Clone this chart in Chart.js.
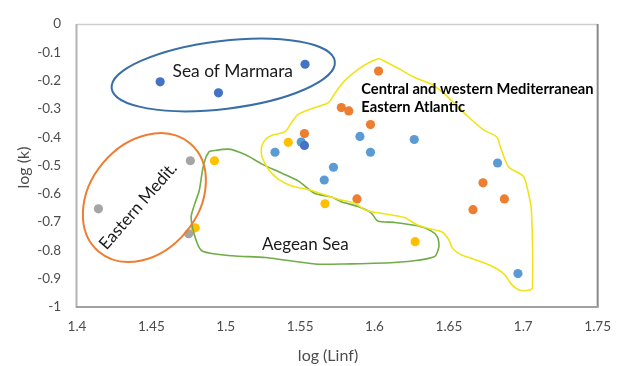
<!DOCTYPE html>
<html>
<head>
<meta charset="utf-8">
<script src="https://cdn.jsdelivr.net/npm/chart.js@4.4.1/dist/chart.umd.min.js"></script>
<style>
  html, body { margin: 0; padding: 0; background: #ffffff; }
  #wrap { width: 623px; height: 366px; }
</style>
</head>
<body>
<div id="wrap"><canvas id="chart" width="623" height="366"></canvas></div>
<script>
// Growth parameters: log(Linf) on x, log(k) on y, one series per group
const xTickValues = [1.4, 1.45, 1.5, 1.55, 1.6, 1.65, 1.7, 1.75];
const xTickLabels = ['1.4', '1.45', '1.5', '1.55', '1.6', '1.65', '1.7', '1.75'];
const yTickValues = [0, -0.1, -0.2, -0.3, -0.4, -0.5, -0.6, -0.7, -0.8, -0.9, -1];
const yTickLabels = ['0', '-0.1', '-0.2', '-0.3', '-0.4', '-0.5', '-0.6', '-0.7', '-0.8', '-0.9', '-1'];

const lightBlueX = [1.5331, 1.5507, 1.5902, 1.6267, 1.5973, 1.5724, 1.5662, 1.6827, 1.6964];
const lightBlueY = [-0.453, -0.417, -0.397, -0.408, -0.453, -0.506, -0.551, -0.491, -0.882];

const orangeX = [1.5529, 1.6027, 1.5777, 1.5827, 1.5973, 1.6729, 1.5882, 1.6873, 1.6662];
const orangeY = [-0.387, -0.166, -0.295, -0.307, -0.355, -0.561, -0.618, -0.618, -0.656];

const greyX = [1.4762, 1.4144, 1.4751];
const greyY = [-0.483, -0.653, -0.741];

const goldX = [1.5420, 1.4924, 1.5667, 1.6273, 1.4795];
const goldY = [-0.418, -0.483, -0.635, -0.769, -0.720];

const darkBlueX = [1.4559, 1.4951, 1.5533, 1.5529];
const darkBlueY = [-0.204, -0.243, -0.142, -0.429];

// Outline of the central/western Mediterranean and eastern Atlantic group
const westOutlineX = [1.6033, 1.6155, 1.6267, 1.6377, 1.6467, 1.6533, 1.6622, 1.6733, 1.6822, 1.6844,
  1.6900, 1.7000, 1.7033, 1.7055, 1.7062, 1.7044, 1.6977, 1.6922, 1.6877, 1.6822,
  1.6755, 1.6667, 1.6577, 1.6522, 1.6500, 1.6455, 1.6377, 1.6289, 1.6200, 1.6022,
  1.5933, 1.5867, 1.5755, 1.5577, 1.5444, 1.5355, 1.5289, 1.5244, 1.5240, 1.5267,
  1.5311, 1.5400, 1.5444, 1.5489, 1.5600, 1.5689, 1.5733, 1.5800, 1.5889, 1.5977, 1.6033];
const westOutlineY = [-0.122, -0.155, -0.188, -0.211, -0.245, -0.278, -0.324, -0.374, -0.399, -0.431,
  -0.504, -0.538, -0.594, -0.662, -0.932, -0.940, -0.941, -0.921, -0.887, -0.865,
  -0.848, -0.831, -0.814, -0.791, -0.763, -0.735, -0.724, -0.710, -0.684, -0.667,
  -0.656, -0.633, -0.619, -0.588, -0.572, -0.549, -0.515, -0.470, -0.436, -0.408,
  -0.393, -0.380, -0.346, -0.318, -0.295, -0.278, -0.245, -0.200, -0.160, -0.132, -0.122];

// Outline of the Aegean Sea group
const aegeanOutlineX = [1.4889, 1.5022, 1.5133, 1.5244, 1.5377, 1.5489, 1.5600, 1.5711, 1.5777, 1.5889,
  1.5977, 1.6022, 1.6133, 1.6289, 1.6377, 1.6422, 1.6433, 1.6402, 1.6155, 1.5800,
  1.5600, 1.5267, 1.5044, 1.4844, 1.4800, 1.4767, 1.4789, 1.4822, 1.4844, 1.4867, 1.4889];
const aegeanOutlineY = [-0.450, -0.442, -0.462, -0.495, -0.527, -0.555, -0.599, -0.611, -0.628, -0.645,
  -0.667, -0.696, -0.701, -0.713, -0.730, -0.751, -0.786, -0.822, -0.842, -0.848,
  -0.848, -0.825, -0.819, -0.803, -0.763, -0.684, -0.639, -0.588, -0.515, -0.470, -0.450];

// Ellipses: ends of the long axis in data units
const marmaraAxisX = [1.4233, 1.5733];
const marmaraAxisY = [-0.2276, -0.1319];
const eastMedAxisX = [1.4147, 1.4759];
const eastMedAxisY = [-0.8049, -0.4214];

const pts = (xs, ys) => xs.map((x, i) => ({ x: x, y: ys[i] }));

const FONT = 'Lato, "Open Sans", sans-serif';

const dotSet = (label, xs, ys, color, order) => ({
  label: label,
  data: pts(xs, ys),
  backgroundColor: color,
  borderColor: color,
  borderWidth: 0,
  pointRadius: 4.6,
  pointHoverRadius: 4.6,
  showLine: false,
  order: order
});

const outlineSet = (label, xs, ys, color) => ({
  label: label,
  data: pts(xs, ys),
  showLine: true,
  fill: false,
  borderColor: color,
  borderWidth: 1.6,
  pointRadius: 0,
  tension: 0.25,
  order: 0
});

// Ellipses, region names and the plot frame
const overlayPlugin = {
  id: 'overlay',
  beforeDatasetsDraw(chart) {
    const { ctx, chartArea: a } = chart;
    ctx.save();
    ctx.lineCap = 'butt';
    const line = (x1, y1, x2, y2, c, w) => {
      ctx.strokeStyle = c; ctx.lineWidth = w;
      ctx.beginPath(); ctx.moveTo(x1, y1); ctx.lineTo(x2, y2); ctx.stroke();
    };
    line(a.left, a.top + 0.5, a.right, a.top + 0.5, '#cfcfcf', 1.5);
    line(a.right, a.top, a.right, a.bottom, '#8a8a8a', 2);
    line(a.left - 0.5, a.top, a.left - 0.5, a.bottom + 1, '#b4b4b4', 2);
    line(a.left - 1, a.bottom, a.right + 1, a.bottom, '#a2a2a2', 2);
    ctx.restore();
  },
  afterDatasetsDraw(chart) {
    const { ctx } = chart;
    const xs = chart.scales.x, ys = chart.scales.y;
    const px = v => xs.getPixelForValue(v);
    const py = v => ys.getPixelForValue(v);

    const ellipse = (ax, ay, minor, color) => {
      const x1 = px(ax[0]), y1 = py(ay[0]), x2 = px(ax[1]), y2 = py(ay[1]);
      const cx = (x1 + x2) / 2, cy = (y1 + y2) / 2;
      const major = Math.hypot(x2 - x1, y2 - y1) / 2;
      const rot = Math.atan2(y2 - y1, x2 - x1);
      ctx.save();
      ctx.strokeStyle = color;
      ctx.lineWidth = 2;
      ctx.beginPath();
      ctx.ellipse(cx, cy, major, minor, rot, 0, Math.PI * 2);
      ctx.stroke();
      ctx.restore();
    };
    ellipse(marmaraAxisX, marmaraAxisY, 34, '#3a6fa6');
    ellipse(eastMedAxisX, eastMedAxisY, 54, '#ed7d31');

    const text = (str, x, y, font, color, align, angle) => {
      ctx.save();
      ctx.translate(px(x), py(y));
      ctx.rotate(angle || 0);
      ctx.font = font;
      ctx.fillStyle = color;
      ctx.textAlign = align;
      ctx.textBaseline = 'alphabetic';
      ctx.fillText(str, 0, 0);
      ctx.restore();
    };
    text('Sea of Marmara', 1.5047, -0.188, '17.4px ' + FONT, '#1a1a1a', 'center');
    text('Aegean Sea', 1.5535, -0.797, '17px ' + FONT, '#1a1a1a', 'center');
    text('Eastern Medit.', 1.4439, -0.656, '17px ' + FONT, '#1a1a1a', 'center', -49 * Math.PI / 180);
    text('Central and western Mediterranean', 1.5911, -0.247, 'bold 14.7px ' + FONT, '#000000', 'left');
    text('Eastern Atlantic', 1.5911, -0.310, 'bold 14.7px ' + FONT, '#000000', 'left');
  },
  afterDraw(chart) {
    const { ctx, chartArea: a } = chart;
    ctx.save();
    ctx.font = '16px ' + FONT;
    ctx.fillStyle = '#4d4d4d';
    ctx.textAlign = 'center';
    ctx.textBaseline = 'alphabetic';
    ctx.fillText('log (Linf)', a.left + 251, 361);
    ctx.translate(29, (a.top + a.bottom) / 2 + 2);
    ctx.rotate(-Math.PI / 2);
    ctx.fillText('log (k)', 0, 0);
    ctx.restore();
  }
};

new Chart(document.getElementById('chart'), {
  type: 'scatter',
  data: {
    datasets: [
      outlineSet('Central and western Mediterranean, Eastern Atlantic', westOutlineX, westOutlineY, '#f0e418'),
      outlineSet('Aegean Sea', aegeanOutlineX, aegeanOutlineY, '#70ad47'),
      dotSet('Series 5', darkBlueX, darkBlueY, '#4472c4', 1),
      dotSet('Series 4', goldX, goldY, '#ffc000', 2),
      dotSet('Series 3', greyX, greyY, '#a5a5a5', 3),
      dotSet('Series 2', orangeX, orangeY, '#ed7d31', 4),
      dotSet('Series 1', lightBlueX, lightBlueY, '#5b9bd5', 5)
    ]
  },
  options: {
    responsive: false,
    animation: false,
    devicePixelRatio: 1,
    layout: { padding: { top: 11, right: 21, left: 0, bottom: 0 } },
    plugins: { legend: { display: false }, tooltip: { enabled: false } },
    scales: {
      x: {
        type: 'linear',
        min: 1.4,
        max: 1.75,
        afterBuildTicks: s => { s.ticks = xTickValues.map(v => ({ value: v })); },
        afterFit: s => { s.height = 59; },
        grid: { display: false, drawTicks: false },
        border: { display: false },
        ticks: {
          padding: 12,
          color: '#4d4d4d',
          font: { family: FONT, size: 13.5 },
          callback: (v, i) => xTickLabels[i]
        }
      },
      y: {
        type: 'linear',
        min: -1,
        max: 0,
        afterBuildTicks: s => { s.ticks = yTickValues.map(v => ({ value: v })); },
        afterFit: s => { s.width = 77; },
        grid: { display: false, drawTicks: false },
        border: { display: false },
        ticks: {
          padding: 16,
          color: '#4d4d4d',
          font: { family: FONT, size: 13.5 },
          callback: (v, i) => yTickLabels[i]
        }
      }
    }
  },
  plugins: [overlayPlugin]
});
</script>
</body>
</html>
